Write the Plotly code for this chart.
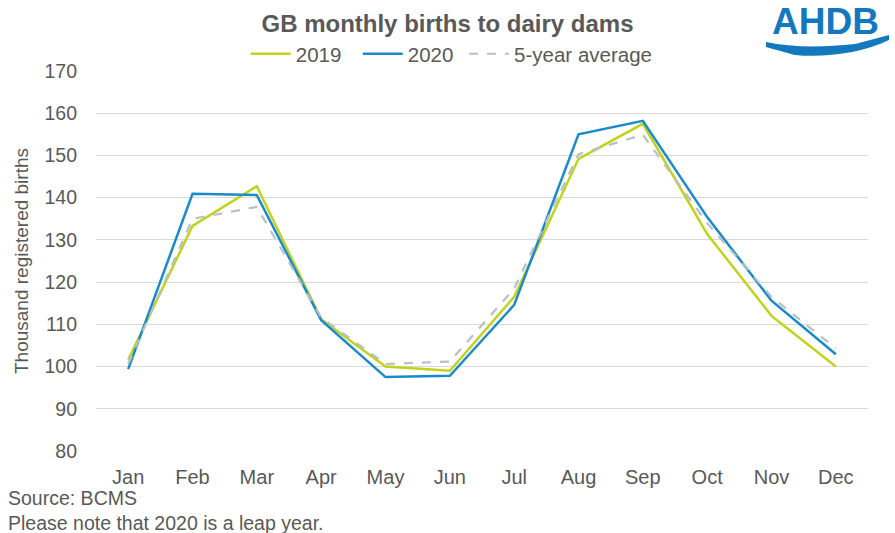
import plotly.graph_objects as go

months = ['Jan', 'Feb', 'Mar', 'Apr', 'May', 'Jun', 'Jul', 'Aug', 'Sep', 'Oct', 'Nov', 'Dec']
births_2019 = [101.6, 133.3, 142.7, 111.2, 100.0, 99.0, 116.5, 149.2, 157.5, 131.4, 112.0, 100.0]
births_2020 = [99.4, 140.9, 140.6, 111.0, 97.5, 97.8, 114.6, 155.0, 158.2, 135.4, 115.6, 102.9]
avg_5yr = [100.6, 135.0, 137.8, 111.6, 100.6, 101.2, 118.5, 150.3, 154.9, 134.0, 116.5, 104.3]

FONT = 'Liberation Sans, Arial, sans-serif'
GREY = '#595959'
NB = '\u00a0'

fig = go.Figure()
fig.add_trace(go.Scatter(x=months, y=births_2019, name='2019' + NB * 2, mode='lines',
                         line=dict(color='#C3D21C', width=2.5)))
fig.add_trace(go.Scatter(x=months, y=births_2020, name='2020' + NB, mode='lines',
                         line=dict(color='#1A8BCA', width=2.5)))
fig.add_trace(go.Scatter(x=months, y=avg_5yr, name='5-year average', mode='lines',
                         line=dict(color='#B6C0CA', width=2.2, dash='dash')))

fig.update_layout(
    width=895, height=533,
    margin=dict(l=96, r=27, t=71, b=82, autoexpand=False),
    paper_bgcolor='white', plot_bgcolor='white',
    font=dict(family=FONT, color=GREY, size=20),
    title=dict(text='<b>GB monthly births to dairy dams</b>', x=0.5, xanchor='center',
               y=0.955, yanchor='middle', font=dict(size=24, color=GREY)),
    legend=dict(orientation='h', x=0.194, xanchor='left', y=1.045, yanchor='middle',
                font=dict(size=20.5, color=GREY), itemwidth=40,
                bgcolor='rgba(0,0,0,0)'),
    showlegend=True,
)
fig.update_xaxes(range=[-0.5, 11.5], showgrid=False, showline=False, ticks='',
                 ticklabelstandoff=12, tickfont=dict(size=20, color=GREY))
fig.update_yaxes(range=[80, 170], dtick=10, showgrid=True, gridcolor='#D9D9D9', gridwidth=1,
                 zeroline=False, showline=False, ticks='', ticklabelstandoff=18,
                 tickfont=dict(size=19.5, color=GREY),
                 title=dict(text='Thousand registered births', font=dict(size=19, color=GREY),
                            standoff=10))

fig.add_annotation(text='Source: BCMS<br>Please note that 2020 is a leap year.',
                   xref='paper', yref='paper', x=-0.117, y=-0.09, xanchor='left', yanchor='top',
                   align='left', showarrow=False, font=dict(size=19.5, color=GREY))

# AHDB logo
def px2paper(px, py):
    return (px - 96) / 772, (451 - py) / 380

fig.add_annotation(text='<b>AHDB</b>', xref='paper', yref='paper',
                   x=px2paper(825, 0)[0], y=px2paper(0, 0)[1], xanchor='center', yanchor='top',
                   borderpad=0, showarrow=False,
                   font=dict(size=37, color='#1478BE', family=FONT))
wave_top = [(766, 42), (790, 47), (820, 48), (855, 44), (889, 35)]
wave_bot = [(889, 40), (862, 53), (825, 58), (795, 55), (766, 47)]
pts = [px2paper(a, b) for a, b in wave_top + wave_bot]
path = 'M {:.4f},{:.4f} '.format(*pts[0])
path += 'C {:.4f},{:.4f} {:.4f},{:.4f} {:.4f},{:.4f} '.format(*pts[1], *pts[2], *pts[3])
path += 'Q {:.4f},{:.4f} {:.4f},{:.4f} '.format(*pts[3], *pts[4])
path += 'L {:.4f},{:.4f} '.format(*pts[5])
path += 'C {:.4f},{:.4f} {:.4f},{:.4f} {:.4f},{:.4f} '.format(*pts[6], *pts[7], *pts[8])
path += 'Q {:.4f},{:.4f} {:.4f},{:.4f} Z'.format(*pts[8], *pts[9])
fig.add_shape(type='path', path=path, xref='paper', yref='paper',
              fillcolor='#1478BE', line=dict(width=0))

# drop the default body margin so the figure fills the window
fig.write_html('out.html', config={'displayModeBar': False},
               post_script="document.body.style.margin='0px';")
